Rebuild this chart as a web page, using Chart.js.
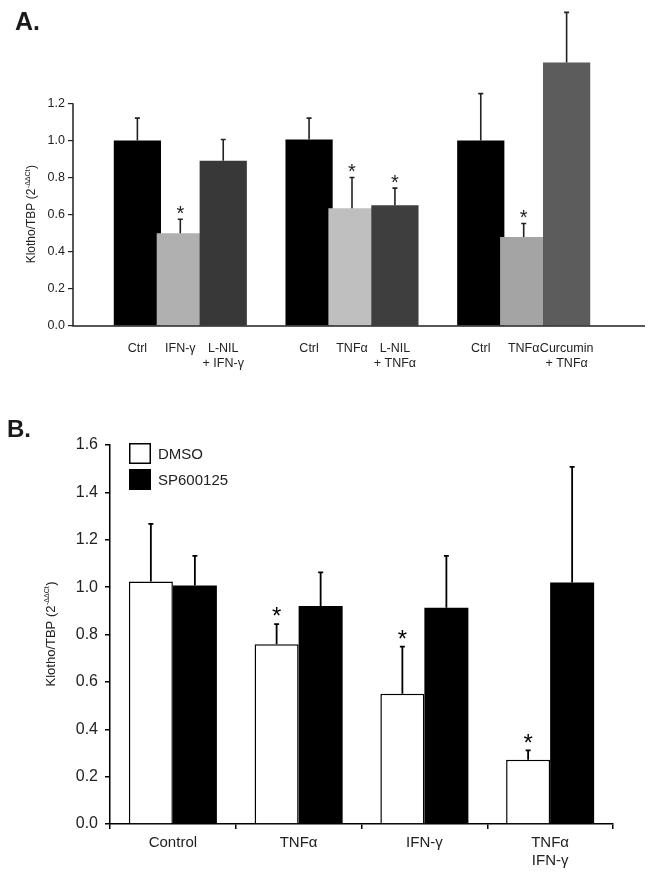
<!DOCTYPE html>
<html>
<head>
<meta charset="utf-8">
<script src="https://cdn.jsdelivr.net/npm/chart.js@4.4.1/dist/chart.umd.min.js"></script>
<style>
  body { margin: 0; background: #fff; }
  .panel { position: relative; width: 652px; }
  #wrapA { height: 380px; }
  #wrapB { height: 497px; }
  .tag { position: absolute; font-family: "Liberation Sans", Arial, sans-serif; font-weight: bold; line-height: 1; color: #1a1a1a; }
</style>
</head>
<body>
<div class="panel" id="wrapA">
  <canvas id="chartA"></canvas>
  <div class="tag" style="left:15px; top:9px; font-size:25px;">A.</div>
</div>
<div class="panel" id="wrapB">
  <canvas id="chartB"></canvas>
  <div class="tag" style="left:7px; top:37px; font-size:24px;">B.</div>
</div>
<script>
// ---- Panel A data (three experiments, three bars each) ----
const groupLabelsA = [
  ['Ctrl', 'IFN-γ', ['L-NIL', '+ IFN-γ']],
  ['Ctrl', 'TNFα', ['L-NIL', '+ TNFα']],
  ['Ctrl', 'TNFα', ['Curcumin', '+ TNFα']]
];
const valuesA = [[1.00, 0.50, 0.89], [1.005, 0.635, 0.65], [1.00, 0.48, 1.42]];
const errorsA = [[0.12, 0.075, 0.115], [0.115, 0.165, 0.093], [0.252, 0.072, 0.27]];
const starsA = [[false, true, false], [false, true, true], [false, true, false]];
const ticksA = [0, 0.2, 0.4, 0.6, 0.8, 1.0, 1.2];

// ---- Panel B data ----
const categoriesB = ['Control', 'TNFα', 'IFN-γ', ['TNFα', 'IFN-γ']];
const dmsoValues = [1.024, 0.759, 0.550, 0.271];
const dmsoErrors = [0.243, 0.085, 0.199, 0.040];
const dmsoStars = [false, true, true, true];
const spValues = [1.007, 0.920, 0.913, 1.019];
const spErrors = [0.125, 0.142, 0.219, 0.489];
const spStars = [false, false, false, false];
const ticksB = [0, 0.2, 0.4, 0.6, 0.8, 1.0, 1.2, 1.4, 1.6];

// bar colours for panel A, per group
const colorsA = [
  ['#000000', '#b0b0b0', '#383838'],
  ['#000000', '#bfbfbf', '#3e3e3e'],
  ['#000000', '#a4a4a4', '#5c5c5c']
];

const FONT = '"Liberation Sans", Arial, sans-serif';

// build panel A with an empty slot before, between and after groups
const labelsA = [''];
const dataA = [null], errA = [null], starA = [false], bgA = ['#fff'];
groupLabelsA.forEach((g, i) => {
  g.forEach((lab, j) => {
    labelsA.push(lab);
    dataA.push(valuesA[i][j]);
    errA.push(errorsA[i][j]);
    starA.push(starsA[i][j]);
    bgA.push(colorsA[i][j]);
  });
  labelsA.push('');
  dataA.push(null); errA.push(null); starA.push(false); bgA.push('#fff');
});

// error bars (upper only) and significance stars
const errorBars = {
  id: 'errorBars',
  afterDatasetsDraw(chart, args, opts) {
    const ctx = chart.ctx;
    const y = chart.scales.y;
    chart.data.datasets.forEach((ds, di) => {
      const meta = chart.getDatasetMeta(di);
      meta.data.forEach((bar, i) => {
        const v = ds.data[i];
        if (v == null) return;
        const top = y.getPixelForValue(v + ds.errors[i]);
        ctx.save();
        ctx.strokeStyle = opts.color;
        ctx.lineWidth = opts.width;
        ctx.beginPath();
        ctx.moveTo(bar.x, bar.y);
        ctx.lineTo(bar.x, top);
        ctx.moveTo(bar.x - opts.cap, top);
        ctx.lineTo(bar.x + opts.cap, top);
        ctx.stroke();
        if (ds.stars[i]) {
          ctx.fillStyle = opts.color;
          ctx.font = opts.starSize + 'px ' + FONT;
          ctx.textAlign = 'center';
          ctx.textBaseline = 'alphabetic';
          ctx.fillText('*', bar.x, top - opts.starGap + opts.starSize * 0.58);
        }
        ctx.restore();
      });
    });
  }
};

// rotated y title with superscript exponent, plus manual axis lines for panel A
const yTitle = {
  id: 'yTitle',
  afterDraw(chart, args, opts) {
    const ctx = chart.ctx;
    const y = chart.scales.y;
    const area = chart.chartArea;
    if (opts.axisTo != null) {
      ctx.save();
      ctx.strokeStyle = '#222';
      ctx.lineWidth = 1.5;
      ctx.beginPath();
      ctx.moveTo(area.left, y.getPixelForValue(0) + 0.75);
      ctx.lineTo(area.left, y.getPixelForValue(opts.axisTo));
      // x axis runs a bit past the last slot
      ctx.moveTo(area.left, area.bottom);
      ctx.lineTo(opts.xAxisEnd, area.bottom);
      ctx.stroke();
      ctx.restore();
    }
    const cy = (y.getPixelForValue(opts.from) + y.getPixelForValue(opts.to)) / 2;
    const main = 'Klotho/TBP (2', sup = '-ΔΔCt', close = ')';
    const small = Math.round(opts.size * 0.55);
    ctx.save();
    ctx.translate(opts.x, cy);
    ctx.rotate(-Math.PI / 2);
    ctx.fillStyle = '#222';
    ctx.textBaseline = 'alphabetic';
    ctx.textAlign = 'left';
    ctx.font = opts.size + 'px ' + FONT;
    const w1 = ctx.measureText(main).width, w3 = ctx.measureText(close).width;
    ctx.font = small + 'px ' + FONT;
    const w2 = ctx.measureText(sup).width;
    let sx = -(w1 + w2 + w3) / 2;
    const base = opts.size * 0.36;
    ctx.font = opts.size + 'px ' + FONT;
    ctx.fillText(main, sx, base);
    ctx.font = small + 'px ' + FONT;
    ctx.fillText(sup, sx + w1 + 0.5, base - opts.size * 0.42);
    ctx.font = opts.size + 'px ' + FONT;
    ctx.fillText(close, sx + w1 + w2 + 1, base);
    ctx.restore();
  }
};

// boxed legend drawn inside the plot area (panel B)
const boxLegend = {
  id: 'boxLegend',
  afterDraw(chart, args, opts) {
    if (!opts.show) return;
    const ctx = chart.ctx;
    ctx.save();
    chart.data.datasets.forEach((ds, i) => {
      const x = chart.chartArea.left + opts.dx;
      const y = chart.chartArea.top + opts.dy + i * opts.step;
      ctx.fillStyle = ds.backgroundColor;
      ctx.fillRect(x, y, opts.w, opts.h);
      ctx.strokeStyle = '#000';
      ctx.lineWidth = 1.5;
      ctx.strokeRect(x + 0.75, y + 0.75, opts.w - 1.5, opts.h - 1.5);
      ctx.fillStyle = '#222';
      ctx.font = opts.size + 'px ' + FONT;
      ctx.textBaseline = 'middle';
      ctx.fillText(ds.label, x + opts.w + 7, y + opts.h / 2 + 1);
    });
    ctx.restore();
  }
};

Chart.register(errorBars, yTitle, boxLegend);

// ---- Panel A chart ----
new Chart(document.getElementById('chartA'), {
  type: 'bar',
  data: {
    labels: labelsA,
    datasets: [{
      data: dataA,
      errors: errA,
      stars: starA,
      backgroundColor: bgA,
      borderWidth: 0,
      barPercentage: 1.1,
      categoryPercentage: 1.0
    }]
  },
  options: {
    responsive: true,
    maintainAspectRatio: false,
    animation: false,
    layout: { padding: { top: 4, right: 21, left: 0, bottom: 0 } },
    plugins: {
      legend: { display: false },
      tooltip: { enabled: false },
      errorBars: { color: '#222', width: 1.6, cap: 2.5, starSize: 20, starGap: 11 },
      yTitle: { x: 31, size: 12, from: 0, to: 1.2, axisTo: 1.2, xAxisEnd: 645 },
      boxLegend: { show: false }
    },
    scales: {
      x: {
        afterFit: s => { s.height = 54; },
        grid: { display: false },
        border: { display: false },
        ticks: {
          color: '#222', padding: 7, maxRotation: 0, autoSkip: false,
          font: { family: FONT, size: 12.5, lineHeight: 1.2 }
        }
      },
      y: {
        min: 0,
        max: 1.7,
        afterBuildTicks: s => { s.ticks = ticksA.map(v => ({ value: v })); },
        afterFit: s => { s.width = 73; },
        border: { display: false },
        grid: { drawOnChartArea: false, color: '#222', lineWidth: 1.2, tickLength: 5 },
        ticks: {
          color: '#222', padding: 3,
          callback: v => Number(v).toFixed(1),
          font: { family: FONT, size: 12.5 }
        }
      }
    }
  }
});

// ---- Panel B chart ----
new Chart(document.getElementById('chartB'), {
  type: 'bar',
  data: {
    labels: categoriesB,
    datasets: [
      {
        label: 'DMSO',
        data: dmsoValues,
        errors: dmsoErrors,
        stars: dmsoStars,
        backgroundColor: '#ffffff',
        borderColor: '#000000',
        borderWidth: 1.5,
        barPercentage: 1.0,
        categoryPercentage: 0.7
      },
      {
        label: 'SP600125',
        data: spValues,
        errors: spErrors,
        stars: spStars,
        backgroundColor: '#000000',
        borderColor: '#000000',
        borderWidth: 0,
        barPercentage: 1.0,
        categoryPercentage: 0.7
      }
    ]
  },
  options: {
    responsive: true,
    maintainAspectRatio: false,
    animation: false,
    layout: { padding: { top: 65, right: 39, left: 0, bottom: 0 } },
    plugins: {
      legend: { display: false },
      tooltip: { enabled: false },
      errorBars: { color: '#000', width: 1.8, cap: 2.5, starSize: 24, starGap: 13.5 },
      yTitle: { x: 50, size: 13, from: 0, to: 1.6, axisTo: null },
      boxLegend: { show: true, dx: 19, dy: -2, step: 26, w: 22, h: 21, size: 15 }
    },
    scales: {
      x: {
        afterFit: s => { s.height = 53; },
        grid: { offset: true, drawOnChartArea: false, color: '#000', lineWidth: 1.5, tickLength: 5 },
        border: { display: true, color: '#000', width: 1.5 },
        ticks: {
          color: '#222', padding: 5, maxRotation: 0, autoSkip: false,
          font: { family: FONT, size: 15, lineHeight: 1.2 }
        }
      },
      y: {
        min: 0,
        max: 1.6,
        afterBuildTicks: s => { s.ticks = ticksB.map(v => ({ value: v })); },
        afterFit: s => { s.width = 110; },
        border: { display: true, color: '#000', width: 1.5 },
        grid: { drawOnChartArea: false, color: '#000', lineWidth: 1.5, tickLength: 5 },
        ticks: {
          color: '#222', padding: 7,
          callback: v => Number(v).toFixed(1),
          font: { family: FONT, size: 16 }
        }
      }
    }
  }
});
</script>
</body>
</html>
